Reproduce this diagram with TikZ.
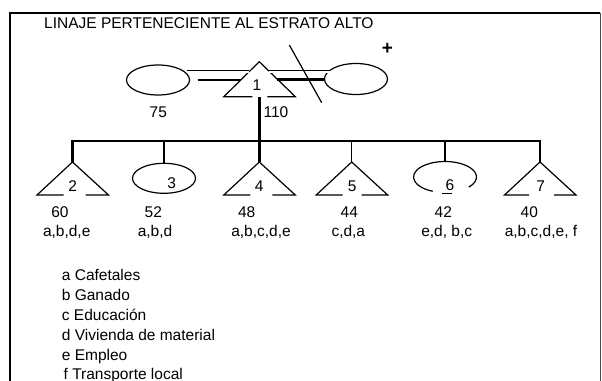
\documentclass[tikz,border=0pt]{standalone}
\usepackage{fontspec}
\setmainfont{Liberation Sans}
\usetikzlibrary{shapes.geometric,calc}
\begin{document}
\begin{tikzpicture}[x=1pt,y=-1pt,
  outline/.style={line width=1.2pt},
  heavy/.style={line width=2.8pt},
  light/.style={line width=1.2pt},
  dbl/.style={double, double distance=2pt, line width=0.8pt},
  txt/.style={font=\fontsize{15.5}{17}\selectfont, inner sep=0pt},
  lab/.style={txt, anchor=base},
  leg/.style={txt, anchor=base west},
  womanshape/.style={ellipse, draw, outline, minimum width=63pt, minimum height=30pt, inner sep=0pt},
  pics/kintri/.style n args={3}{code={
     \coordinate (-apex) at (0,0);
     \coordinate (-bl) at (-35.5,#1);
     \coordinate (-br) at (36,#1);
     \coordinate (-base) at (0,#1);
     \draw[outline] (#2,#1) -- (-bl) -- (-apex) -- (-br) -- (#3,#1);
  }},
]
\useasboundingbox (0,0) rectangle (602,380);
% frame
\coordinate (fTL) at (10,13);
\coordinate (fTR) at (600,13);
\coordinate (fBL) at (10,381);
\coordinate (fBR) at (600,381);
\draw[line width=2.8pt] (fBL) -- (fTL) -- (fTR);
\draw[line width=1pt, black!70] (fTR) -- (fBR);

\node[txt, anchor=base west] (title) at (44,28.3) {LINAJE PERTENECIENTE AL ESTRATO ALTO};

% parents
\node[womanshape] (wl) at (158,80) {};
\node[womanshape, minimum height=31pt] (wr) at (356,79) {};
\pic (t1) at (259.3,61.7) {kintri={35}{-7}{8}};
\node[lab] (n1) at (257,90.7) {1};
\coordinate (t1-eul) at ($(t1-apex)!0.28!(t1-bl)$);
\coordinate (t1-eur) at ($(t1-apex)!0.28!(t1-br)$);
\coordinate (t1-eml) at ($(t1-apex)!0.52!(t1-bl)$);
\coordinate (t1-emr) at ($(t1-apex)!0.50!(t1-br)$);
\coordinate (dl) at ($(wl.center)+(29,-8.5)$);
\coordinate (dr) at ($(wr.center)+(-26,-7.5)$);
\coordinate (wl-tk) at ([xshift=7.5pt]wl.east);
\draw[dbl] (dl) -- (dl -| t1-eul);
\draw[heavy] (wl-tk) -- (wl-tk -| t1-eml);
\draw[dbl] (t1-eur) -- (t1-eur -| dr);
\draw[heavy] (t1-emr) -- (t1-emr -| wr.west);
% divorce slash and plus
\coordinate (sl1) at (289.3,45);
\coordinate (sl2) at (321.7,102.7);
\draw[light] (sl1) -- (sl2);
\node[txt, font=\fontsize{19}{20}\selectfont\bfseries] (plus) at (387.5,49) {+};
\node[lab] (a75) at (158.3,117.3) {75};
\node[lab] (a110) at (276,117.3) {110};

% children
\pic (t2) at (72.5,162) {kintri={33}{-9}{13}};
\node[womanshape] (e3) at (164,178.3) {};
\pic (t4) at (259.3,162) {kintri={33}{-9}{13}};
\pic (t5) at (351.7,162) {kintri={33}{-9}{10}};
\node[womanshape, draw=none, minimum height=31pt] (e6) at (445,177) {};
\pic (t7) at (540,162) {kintri={33}{-11}{14}};
\draw[outline] ($(e6.center)+(-41:31.5pt and 15.5pt)$) arc[start angle=-41, end angle=247, x radius=31.5pt, y radius=15.5pt];
\draw[line width=0.8pt] ([xshift=-3pt]e6.south) -- ([xshift=7pt]e6.south);

% sibship bar
\coordinate (barL) at (72.5,141);
\draw[heavy] (t1-base) -- (t1-base |- barL);
\draw[heavy] (t2-apex) -- (t2-apex |- barL) -- (t7-apex |- barL) -- (t7-apex);
\draw[heavy] (e3.north |- barL) -- (e3.north);
\draw[heavy] (t4-apex |- barL) -- (t4-apex);
\draw[light] (t5-apex |- barL) -- (t5-apex);
\draw[heavy] (e6.north |- barL) -- (e6.north);

% inner numbers
\node[lab] (n2) at (72.7,191) {2};
\node[lab] (n3) at (171.7,188.3) {3};
\node[lab] (n4) at (259.3,191.5) {4};
\node[lab] (n5) at (352.3,191.5) {5};
\node[lab] (n6) at (450,190) {6};
\node[lab] (n7) at (540.7,191.5) {7};

% ages
\node[lab] (g2) at (60,217.3) {60};
\node[lab] (g3) at (153.3,217.3) {52};
\node[lab] (g4) at (246.7,217.3) {48};
\node[lab] (g5) at (349.3,217.3) {44};
\node[lab] (g6) at (443.3,217.3) {42};
\node[lab] (g7) at (529.3,217.3) {40};

% resources
\node[lab] (r2) at (66.7,236.7) {a,b,d,e};
\node[lab] (r3) at (155,236.7) {a,b,d};
\node[lab] (r4) at (261,236.7) {a,b,c,d,e};
\node[lab] (r5) at (348.3,236.7) {c,d,a};
\node[lab] (r6) at (446.7,236.7) {e,d, b,c};
\node[lab] (r7) at (541,236.7) {a,b,c,d,e, f};

% legend
\node[leg] (la) at (61.7,280) {a Cafetales};
\node[leg] (lb) at (61.7,300) {b Ganado};
\node[leg] (lc) at (61.7,320) {c Educación};
\node[leg] (ld) at (61.7,340) {d Vivienda de material};
\node[leg] (le) at (61.7,360) {e Empleo};
\node[leg] (lf) at (63.5,379.5) {f Transporte local};
\end{tikzpicture}
\end{document}
